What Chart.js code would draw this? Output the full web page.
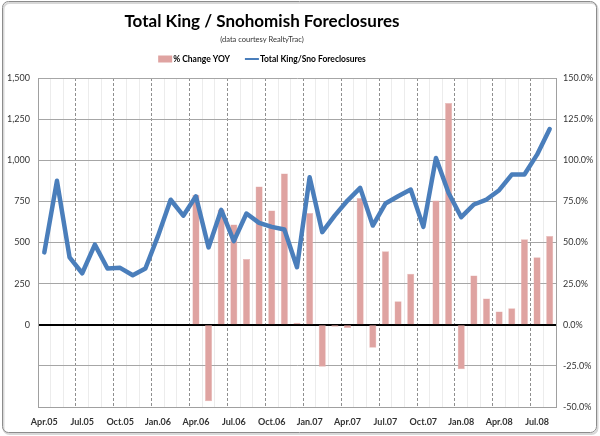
<!DOCTYPE html>
<html>
<head>
<meta charset="utf-8">
<script src="https://cdn.jsdelivr.net/npm/chart.js@4.4.1/dist/chart.umd.min.js"></script>
<style>
    html, body { margin: 0; padding: 0; background: #fff; }
    #wrap { width: 600px; height: 436px; }
</style>
</head>
<body>
<div id="wrap"><canvas id="foreclosureChart" width="600" height="436"></canvas></div>
<script>
// month categories, Apr.05 .. Aug.08
const months = ['Apr.05', 'May.05', 'Jun.05', 'Jul.05', 'Aug.05', 'Sep.05', 'Oct.05', 'Nov.05', 'Dec.05',
    'Jan.06', 'Feb.06', 'Mar.06', 'Apr.06', 'May.06', 'Jun.06', 'Jul.06', 'Aug.06', 'Sep.06', 'Oct.06', 'Nov.06', 'Dec.06',
    'Jan.07', 'Feb.07', 'Mar.07', 'Apr.07', 'May.07', 'Jun.07', 'Jul.07', 'Aug.07', 'Sep.07', 'Oct.07', 'Nov.07', 'Dec.07',
    'Jan.08', 'Feb.08', 'Mar.08', 'Apr.08', 'May.08', 'Jun.08', 'Jul.08', 'Aug.08'];

// total King/Sno foreclosures per month
const totalForeclosures = [440, 875, 410, 313, 487, 342, 346, 301, 342,
    540, 760, 663, 781, 470, 698, 508, 676, 619, 595, 579, 350,
    897, 563, 665, 755, 832, 603, 737, 781, 822, 595, 1014, 801,
    654, 731, 761, 818, 913, 913, 1034, 1190];

// % change year over year (no data for first year)
const pctChangeYoy = [null, null, null, null, null, null, null, null, null,
    null, null, null, 79, -46.5, 70, 61, 40, 84, 69.5, 92, 1.2,
    68, -25.5, -1.2, -2, 77, -14, 44.7, 14.3, 31, null, 75.5, 134.8,
    -27, 30, 16, 8, 10, 52, 41, 54];

const leftTicks = [-500, 1500, 250];
const rightTicks = [-50, 150, 25];

const chartTitle = "Total King / Snohomish Foreclosures";
const chartSubtitle = "(data courtesy RealtyTrac)";

const barColor = "#dfa3a1";
const lineColor = "#4a7ebb";
const fontName = "Lato, 'Open Sans', sans-serif";

// frame + title + legend, drawn like the excel chart
const decorPlugin = {
    id: "decor",
    beforeDraw(chart) {
        const c = chart.ctx;
        c.save();
        c.fillStyle = "#fff";
        c.fillRect(0, 0, chart.width, chart.height);
        // soft shadow
        c.strokeStyle = "#d8d8d8";
        c.lineWidth = 2;
        c.beginPath();
        c.roundRect(3.5, 3, 594, 431, 6);
        c.stroke();
        c.strokeStyle = "#8c8c8c";
        c.lineWidth = 1;
        c.beginPath();
        c.roundRect(2.5, 1.5, 594, 431, 6);
        c.stroke();
        c.restore();
    },
    afterDraw(chart) {
        const c = chart.ctx;
        const cx = 262;
        c.save();
        c.fillStyle = "#000";
        c.textAlign = "center";
        c.textBaseline = "middle";
        c.font = "bold 17px " + fontName;
        c.fillText(chartTitle, cx, 22);
        c.font = "7.5px " + fontName;
        c.fillStyle = "#333";
        c.fillText(chartSubtitle, cx, 40);

        // legend
        const ds = chart.data.datasets;
        c.font = "bold 8.5px " + fontName;
        c.textAlign = "left";
        const w0 = c.measureText(ds[0].label).width;
        const w1 = c.measureText(ds[1].label).width;
        const sw = 14, gap = 1, between = 15;
        const total = sw + gap + w0 + between + sw + gap + w1;
        let x = cx - total / 2;
        const y = 59;
        c.fillStyle = barColor;
        c.fillRect(x, y - 3.5, sw, 7);
        x += sw + gap;
        c.fillStyle = "#000";
        c.fillText(ds[0].label, x, y);
        x += w0 + between;
        c.strokeStyle = lineColor;
        c.lineWidth = 2;
        c.beginPath();
        c.moveTo(x, y);
        c.lineTo(x + sw, y);
        c.stroke();
        x += sw + gap;
        c.fillText(ds[1].label, x, y);
        c.restore();
    }
};

const ctx = document.getElementById("foreclosureChart").getContext("2d");
new Chart(ctx, {
    data: {
        labels: months,
        datasets: [
            {
                type: "bar",
                label: "% Change YOY",
                data: pctChangeYoy,
                yAxisID: "y1",
                backgroundColor: barColor,
                borderColor: "#e8b8b6",
                borderWidth: 0.5,
                barPercentage: 0.56,
                categoryPercentage: 1,
                order: 2
            },
            {
                type: "line",
                label: "Total King/Sno Foreclosures",
                data: totalForeclosures,
                yAxisID: "y",
                borderColor: lineColor,
                borderWidth: 4.5,
                borderJoinStyle: "round",
                borderCapStyle: "round",
                pointRadius: 0,
                tension: 0,
                fill: false,
                order: 1
            }
        ]
    },
    options: {
        responsive: false,
        animation: false,
        layout: { padding: { top: 78, left: 0, right: 0, bottom: 0 } },
        plugins: {
            legend: { display: false },
            title: { display: false },
            tooltip: { enabled: false }
        },
        scales: {
            x: {
                offset: true,
                afterFit: s => { s.height = 29; },
                grid: {
                    offset: true,
                    drawTicks: false,
                    color: c => (c.index % 3 === 0 ? "#8f8f8f" : "#ececec"),
                    lineWidth: 1
                },
                border: {
                    display: true,
                    color: "#a0a0a0",
                    dash: c => (c.index % 3 === 0 ? [3, 2] : [])
                },
                ticks: {
                    autoSkip: false,
                    maxRotation: 0,
                    padding: 10,
                    color: "#333",
                    font: { family: fontName, size: 9, weight: "bold" },
                    callback: function (v, i) { return i % 3 === 0 ? months[i] : ""; }
                }
            },
            y: {
                position: "left",
                min: leftTicks[0],
                max: leftTicks[1],
                afterFit: s => { s.width = 38; },
                grid: {
                    drawTicks: false,
                    color: c => (c.tick.value === 0 ? "#000" : "#a6a6a6"),
                    lineWidth: c => (c.tick.value === 0 ? 2 : 1)
                },
                border: { display: true, color: "#a0a0a0" },
                ticks: {
                    stepSize: leftTicks[2],
                    padding: 8,
                    color: "#333",
                    font: { family: fontName, size: 9 },
                    callback: v => (v >= 0 ? v.toLocaleString("en-US") : "")
                }
            },
            y1: {
                position: "right",
                min: rightTicks[0],
                max: rightTicks[1],
                afterFit: s => { s.width = 44; },
                grid: { drawOnChartArea: false, drawTicks: false },
                border: { display: true, color: "#a0a0a0" },
                ticks: {
                    stepSize: rightTicks[2],
                    padding: 7,
                    color: "#333",
                    font: { family: fontName, size: 9 },
                    callback: v => v.toFixed(1) + "%"
                }
            }
        }
    },
    plugins: [decorPlugin]
});
</script>
</body>
</html>
